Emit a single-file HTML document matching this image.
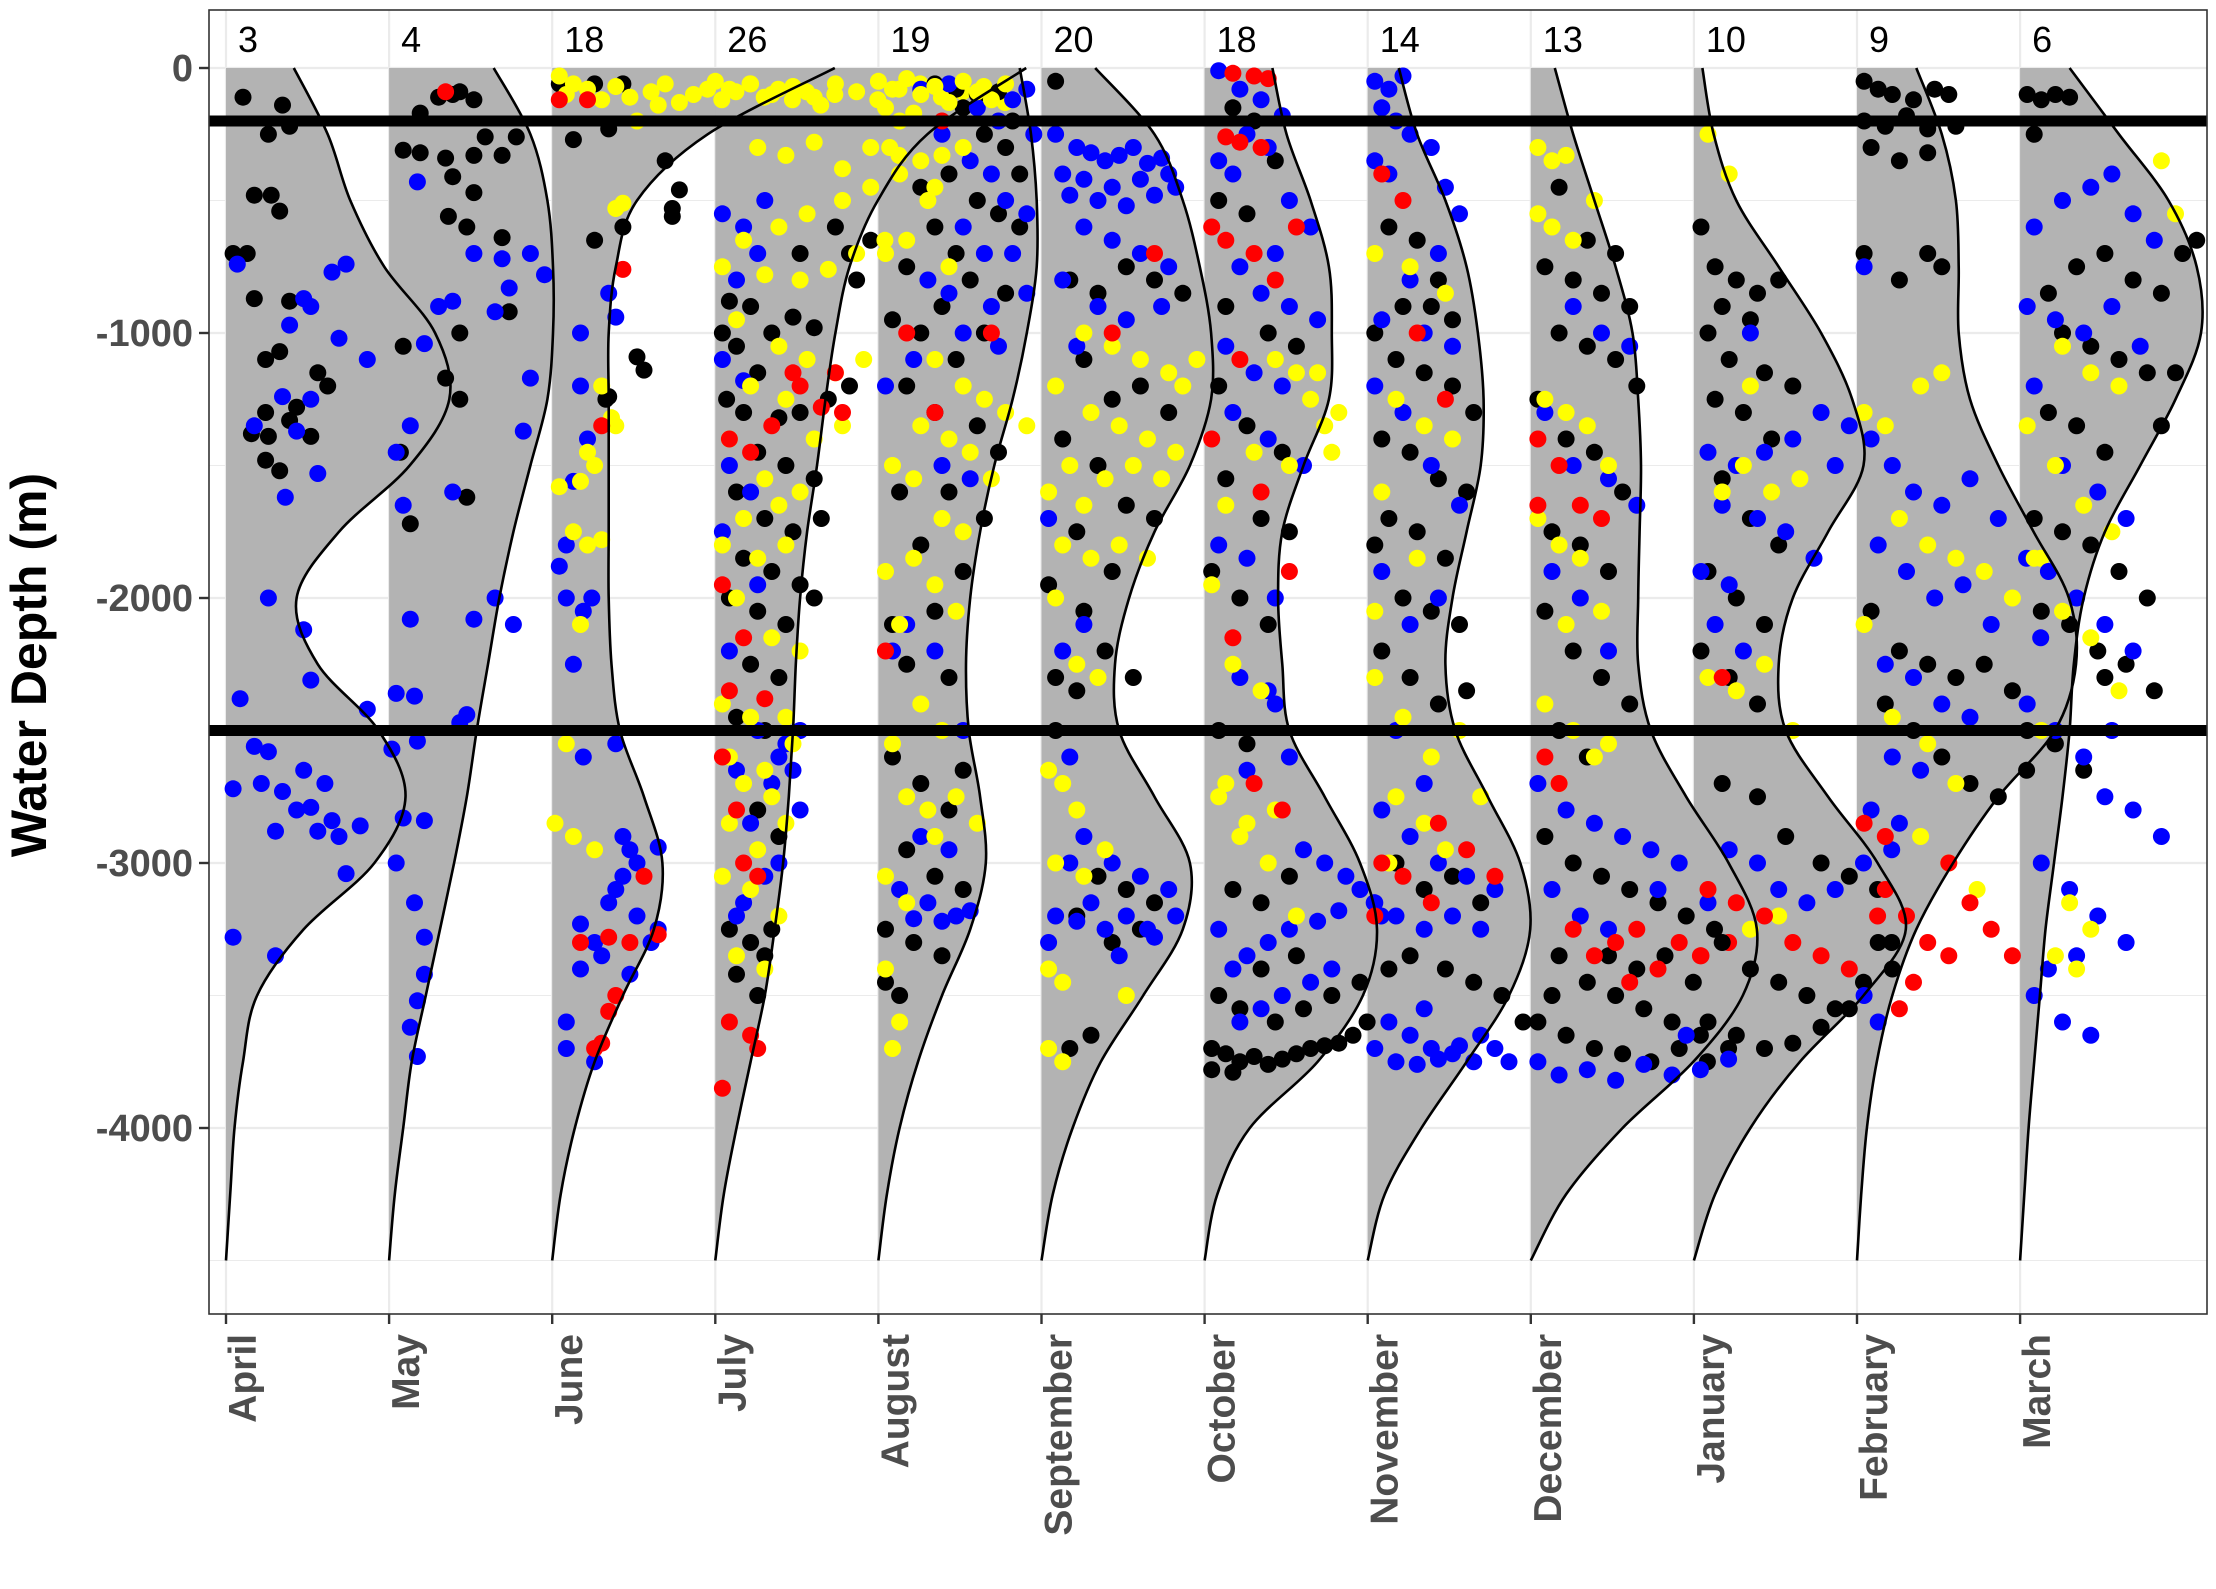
<!DOCTYPE html>
<html><head><meta charset="utf-8">
<style>
html,body{margin:0;padding:0;background:#fff;}
svg{display:block;font-family:"Liberation Sans",sans-serif;}
</style></head>
<body>
<svg id="chart" width="2216" height="1589" viewBox="0 0 2216 1589" xmlns="http://www.w3.org/2000/svg">
  <rect x="0" y="0" width="2216" height="1589" fill="#fff"/>
  <g id="grid"></g>
  <g id="dens"></g>
  <g id="pts"></g>
  <g id="ref"></g>
  <g id="counts"></g>
  <rect x="209" y="10" width="1998" height="1304" fill="none" stroke="#333" stroke-width="1.6"/>
  <g id="axes"></g>
  <text transform="translate(46,665) rotate(-90)" text-anchor="middle" font-weight="bold" font-size="50" fill="#000">Water Depth (m)</text>
</svg>
<script>
const months = ["April","May","June","July","August","September","October","November","December","January","February","March"];
const counts = [3,4,18,26,19,20,18,14,13,10,9,6];
const yTicks = [0,-1000,-2000,-3000,-4000];
const refDepths = [-200,-2500];
const densDepths = [0,250,500,750,1000,1250,1500,1750,2000,2250,2500,2750,3000,3250,3500,3750,4000,4250,4500];
const densApr = [48,72,88,112,148,158,130,80,50,65,108,127,105,55,22,12,6,3,0];
const densMay = [74,100,112,116,116,112,100,88,78,70,62,55,46,36,26,16,10,4,0];
const densJun = [200,110,60,45,40,40,40,40,40,42,48,65,78,72,50,30,16,6,0];
const densJul = [220,150,115,95,85,78,72,65,60,57,55,52,48,42,35,25,15,6,0];
const densAug = [100,108,112,112,105,95,82,72,65,62,64,72,76,65,45,28,15,6,0];
const densSep = [38,80,100,112,120,120,105,80,62,52,55,80,105,100,72,42,22,8,0];
const densOct = [48,58,75,88,90,88,70,55,52,55,60,85,110,122,112,80,32,9,0];
const densNov = [22,35,55,70,78,82,80,70,60,55,62,85,108,115,100,70,38,12,0];
const densDec = [17,30,45,60,72,76,78,77,76,76,85,110,140,160,150,115,65,25,0];
const densJan = [6,14,30,60,90,112,120,95,70,60,65,95,130,150,120,75,40,15,0];
const densFeb = [42,60,70,72,72,80,100,125,150,155,140,100,68,42,25,14,7,3,0];
const densMar = [35,70,105,125,128,110,85,60,45,38,35,30,24,18,14,10,6,3,0];
const densities = [densApr,densMay,densJun,densJul,densAug,densSep,densOct,densNov,densDec,densJan,densFeb,densMar];

const ptsBlack = [
 [12,110,40,140,30,250,45,220,20,480,32,480,38,540,5,700,15,700,20,870,45,880,28,1100,38,1070,65,1150,72,1200,50,1280,28,1300,45,1330,18,1380,30,1390,60,1390,28,1480,38,1520],
 [35,110,45,100,50,90,60,120,22,170,10,310,22,320,40,340,45,410,60,330,68,260,80,330,90,260,60,470,55,600,42,560,80,640,85,920,50,1000,10,1050,40,1170,50,1250,8,1450,55,1620,15,1720],
 [5,60,30,60,50,60,40,230,15,270,30,650,50,600,80,350,85,560,85,530,90,460,60,1090,65,1140,40,1240,38,1250],
 [10,880,25,900,5,1000,15,1050,40,1000,55,940,70,980,30,1150,8,1250,20,1300,45,1320,60,1300,80,1250,95,1200,30,1450,50,1500,70,1550,15,1600,35,1700,55,1750,75,1700,20,1850,40,1900,60,1950,10,2000,30,2050,50,2100,70,2000,25,2250,45,2300,15,2450,35,2500,30,2800,45,2900,10,3250,25,3300,35,3350,15,3420,30,3500,40,3250,95,700,110,650,85,600,60,700,100,800],
 [40,60,55,80,70,100,85,90,95,200,60,150,75,250,90,300,100,400,50,400,30,450,70,500,85,550,100,600,40,600,55,700,20,750,65,800,90,850,45,900,10,950,30,1000,75,1000,55,1100,20,1200,40,1300,70,1350,85,1450,15,1600,50,1600,75,1700,30,1800,60,1900,10,2100,40,2050,20,2250,50,2300,10,2600,30,2700,50,2800,60,2650,20,2950,40,3050,60,3100,5,3250,25,3300,45,3350,15,3500,5,3450],
 [10,50,20,800,40,850,60,750,80,800,100,850,30,1100,50,1250,70,1200,90,1300,15,1400,40,1500,60,1650,80,1700,25,1750,50,1900,5,1950,30,2050,45,2200,10,2300,25,2350,65,2300,40,3050,60,3100,80,3150,25,3200,50,3300,70,3250,35,3650,20,3700,10,2500],
 [20,150,35,200,50,350,10,500,30,550,15,900,45,1000,65,1050,10,1200,30,1350,55,1450,15,1550,40,1700,60,1750,5,1900,25,2000,45,2100,10,2500,30,2550,20,3100,40,3150,60,3050,10,3500,25,3550,5,3700,15,3720,25,3750,35,3730,45,3760,55,3740,65,3720,75,3700,85,3690,95,3680,105,3650,115,3600,5,3780,20,3790,50,3600,70,3550,90,3500,110,3450,40,3400,65,3350],
 [15,600,35,650,50,800,25,900,45,900,60,950,5,1000,20,1100,40,1150,60,1200,75,1300,10,1400,30,1450,50,1550,70,1600,15,1700,35,1750,55,1850,5,1800,25,2000,45,2050,65,2100,10,2200,30,2300,50,2400,70,2350,20,3000,40,3100,60,3050,80,3150,30,3350,55,3400,75,3450,95,3500,110,3600,15,3400],
 [20,450,40,650,60,700,10,750,30,800,50,850,70,900,20,1000,40,1050,60,1100,75,1200,5,1250,25,1400,45,1450,65,1600,15,1750,35,1800,55,1900,10,2050,30,2200,50,2300,70,2400,20,2500,40,2600,10,2900,30,3000,50,3050,70,3100,90,3150,110,3200,130,3250,20,3350,40,3450,60,3500,80,3550,100,3600,120,3650,140,3700,5,3600,25,3650,45,3700,65,3720,85,3750,105,3700,125,3750,15,3500,55,3350,75,3400,95,3350,115,3450],
 [5,600,15,750,30,800,45,850,60,800,20,900,40,950,10,1000,25,1100,50,1150,70,1200,15,1250,35,1300,55,1400,20,1550,40,1700,60,1800,10,1900,30,2000,50,2100,5,2200,25,2300,45,2400,20,2700,45,2750,65,2900,90,3000,110,3050,130,3100,20,3300,40,3400,60,3450,80,3500,100,3550,120,3450,140,3300,10,3600,30,3650,50,3700,70,3680,90,3620,110,3550],
 [5,50,15,80,25,100,40,120,55,80,65,100,5,200,20,220,35,180,50,230,70,220,10,300,30,350,50,320,5,700,30,800,50,700,60,750,10,2050,30,2200,50,2250,70,2300,90,2250,110,2350,20,2400,40,2500,60,2600,80,2700,100,2750,120,2650,140,2550,15,3300,25,3400],
 [5,100,15,120,25,100,35,110,10,250,20,850,40,750,60,700,80,800,100,850,115,700,125,650,30,1000,50,1050,70,1100,90,1150,110,1150,20,1300,40,1350,60,1450,10,1700,30,1750,50,1800,70,1900,90,2000,15,2050,35,2100,55,2200,75,2250,95,2350,5,2500,25,2550,45,2650,60,2300,100,1350]
];
const ptsBlue = [
 [8,740,55,870,75,770,85,740,45,970,60,900,40,1240,20,1350,80,1020,100,1100,60,1250,50,1370,65,1530,42,1620,30,2000,55,2120,60,2310,100,2420,10,2380,20,2560,30,2580,25,2700,40,2730,55,2650,70,2700,50,2800,60,2790,75,2840,80,2900,65,2880,35,2880,85,3040,95,2860,5,2720,5,3280,35,3350],
 [20,430,60,700,75,920,85,830,45,880,35,900,80,720,100,700,110,780,25,1040,15,1350,10,1650,5,1450,45,1600,95,1370,100,1170,60,2080,75,2000,88,2100,15,2080,5,2360,18,2370,20,2540,10,2830,25,2840,5,3000,18,3150,25,3280,20,3520,25,3420,15,3620,20,3730,55,2440,50,2470,2,2570],
 [40,850,45,940,20,1000,20,1200,25,1400,15,1560,10,1800,5,1880,10,2000,22,2050,28,2000,15,2250,22,2600,45,2550,50,2900,55,2950,75,2940,60,3000,50,3050,45,3100,40,3150,60,3200,75,3250,20,3230,30,3300,35,3350,20,3400,10,3600,10,3700,30,3750,55,3420,70,3300],
 [5,550,20,600,35,500,15,800,30,700,5,1100,20,1180,10,1500,25,1600,5,1750,30,1950,10,2200,30,2500,45,2600,50,2550,15,2650,40,2700,25,2850,45,3000,35,3050,15,3200,60,2500,55,2650,60,2800,20,3150],
 [30,80,50,60,70,150,85,200,95,120,105,80,110,250,45,250,65,350,80,400,90,500,105,550,60,600,75,700,95,700,35,800,50,850,80,900,105,850,60,1000,85,1050,25,1100,5,1200,45,1500,65,1550,20,2100,40,2200,60,2500,30,2900,50,2950,15,3100,35,3150,55,3200,45,3220,65,3180,25,3210,10,2200],
 [25,300,35,320,45,350,55,330,65,300,75,360,85,340,15,400,30,420,50,450,70,420,90,400,40,500,60,520,10,250,20,480,80,480,95,450,30,600,50,650,70,700,90,750,15,800,40,900,60,950,85,900,25,1050,5,1700,15,2200,30,2100,20,2600,30,2900,50,3000,70,3050,90,3100,10,3200,25,3220,45,3250,60,3200,75,3250,95,3200,35,3150,55,3350,80,3280,5,3300,20,3000],
 [10,10,25,80,40,120,55,180,30,250,45,300,10,350,20,400,60,500,75,600,50,700,25,750,40,850,60,900,80,950,15,1050,35,1150,55,1200,20,1300,45,1400,70,1500,10,1800,30,1850,50,2000,25,2300,45,2350,50,2400,30,2650,60,2600,70,2950,85,3000,100,3050,110,3100,120,3150,125,3200,95,3180,80,3220,60,3250,45,3300,30,3350,20,3400,10,3250,55,3500,40,3550,25,3600,75,3450,90,3400],
 [5,50,15,80,25,30,10,150,20,200,30,250,5,350,15,400,45,300,55,450,65,550,50,700,30,800,10,950,40,1000,60,1050,5,1200,25,1300,45,1500,65,1650,10,1900,30,2100,50,2000,20,2500,40,2700,10,2800,30,2900,50,3000,70,3050,90,3100,5,3150,20,3200,40,3250,60,3200,80,3250,15,3600,30,3650,45,3700,60,3720,75,3750,90,3700,5,3700,20,3750,35,3760,50,3740,65,3690,80,3650,100,3750,40,3550],
 [30,900,50,1000,70,1050,10,1300,30,1500,55,1550,75,1650,15,1900,35,2000,55,2200,5,2700,25,2800,45,2850,65,2900,85,2950,105,3000,15,3100,35,3200,55,3250,5,3750,20,3800,40,3780,60,3820,80,3760,100,3800,120,3780,140,3740,110,3650,90,3100],
 [40,1000,10,1450,30,1500,50,1450,70,1400,90,1300,110,1350,20,1650,45,1700,65,1750,85,1850,100,1500,5,1900,25,1950,15,2100,35,2200,25,2950,45,3000,60,3100,80,3150,100,3100,120,3000,140,2950,10,3150],
 [5,750,10,1400,25,1500,40,1600,60,1650,80,1550,100,1700,120,1850,15,1800,35,1900,55,2000,75,1950,95,2100,130,2150,20,2250,40,2300,60,2400,80,2450,25,2600,45,2650,10,2800,30,2850,5,3500,15,3600],
 [10,600,30,500,50,450,65,400,80,550,95,650,5,900,25,950,45,1000,65,900,85,1050,10,1200,30,1500,55,1600,75,1700,20,1900,40,2000,60,2100,80,2200,5,2400,25,2500,45,2600,60,2750,80,2800,100,2900,15,3000,35,3100,55,3200,75,3300,10,3500,30,3600,50,3650,20,3400,40,3350,65,2500]
];
const ptsYellow = [
 [],
 [],
 [5,30,15,60,25,80,10,100,35,120,45,70,55,110,70,90,80,60,90,130,100,100,110,80,120,120,130,90,140,60,150,110,160,80,170,120,180,90,190,140,200,100,60,200,75,140,50,510,45,530,35,1200,25,1450,30,1500,42,1320,45,1350,20,1560,5,1580,15,1750,25,1800,35,1780,20,2100,10,2550,2,2850,15,2900,30,2950],
 [0,50,10,80,25,60,40,100,55,70,70,110,85,60,100,90,115,120,130,80,145,60,160,110,175,90,190,70,205,130,20,650,45,600,65,550,90,500,110,450,5,750,35,780,60,800,80,760,100,700,120,650,15,950,45,1050,65,1100,85,1150,105,1100,25,1200,50,1250,70,1400,90,1350,10,1400,35,1550,60,1600,20,1700,45,1650,5,1800,30,1850,50,1800,15,2000,40,2150,60,2200,5,2400,25,2450,50,2450,10,2600,35,2650,55,2550,20,2700,40,2750,10,2850,30,2950,50,2850,5,3050,25,3100,45,3200,15,3350,35,3400,30,300,50,330,70,280,90,380,110,300,130,330],
 [0,50,10,80,20,40,30,100,40,70,50,130,60,50,70,90,80,120,90,60,5,150,15,200,25,170,8,300,30,350,45,330,60,300,15,400,40,450,35,500,20,650,5,700,50,750,40,1100,60,1200,75,1250,90,1300,105,1350,30,1350,50,1400,65,1450,10,1500,25,1550,80,1550,45,1700,60,1750,25,1850,5,1900,40,1950,55,2050,15,2100,30,2400,45,2500,10,2550,20,2750,35,2800,55,2750,70,2850,40,2900,5,3050,20,3150,5,3400,15,3600,10,3700],
 [30,1000,50,1050,70,1100,90,1150,110,1100,10,1200,35,1300,55,1350,75,1400,95,1450,20,1500,45,1550,65,1500,85,1550,5,1600,30,1650,15,1800,35,1850,55,1800,75,1850,10,2000,25,2250,40,2300,5,2650,15,2700,25,2800,10,3000,30,3050,45,2950,5,3400,15,3450,5,3700,15,3750,60,3500,100,1200],
 [50,1100,65,1150,75,1250,85,1350,95,1300,60,1500,35,1450,15,1650,5,1950,20,2250,40,2350,10,2750,30,2850,50,2800,45,3000,25,2900,65,3200,15,2700,80,1150,90,1450],
 [5,700,30,750,55,850,20,1250,40,1350,60,1400,10,1600,35,1850,5,2300,25,2450,45,2600,65,2500,80,2750,20,2750,40,2850,15,3000,55,2950,5,2050],
 [5,300,15,350,25,330,5,550,15,600,30,650,45,500,10,1250,25,1300,40,1350,55,1500,5,1700,20,1800,35,1850,50,2050,25,2100,10,2400,30,2500,45,2600,55,2550,20,2700],
 [10,250,25,400,40,1200,20,1600,35,1500,55,1600,75,1550,10,2300,30,2350,50,2250,70,2500,60,3200,40,3250],
 [5,1300,20,1350,45,1200,60,1150,30,1700,50,1800,70,1850,90,1900,110,2000,130,1850,5,2100,25,2450,50,2550,70,2700,45,2900,65,3000,85,3100],
 [100,350,110,550,30,1050,50,1150,70,1200,5,1350,25,1500,45,1650,65,1750,10,1850,30,2050,50,2150,70,2350,15,2500,35,3150,50,3250,25,3350,40,3400]
];
const ptsRed = [
 [],
 [40,90],
 [5,120,25,120,50,760,35,1350,20,3300,40,3280,55,3300,65,3050,75,3270,45,3500,40,3560,35,3680,30,3700],
 [10,1400,25,1450,55,1150,60,1200,75,1280,90,1300,40,1350,5,1950,20,2150,10,2350,35,2380,5,2600,20,3000,30,3050,10,3600,25,3650,30,3700,5,3850,15,2800,85,1150],
 [45,200,20,1000,80,1000,5,2200,40,1300],
 [50,1000,80,700],
 [20,20,35,30,45,40,15,260,25,280,40,300,5,600,15,650,35,700,50,800,65,600,25,1100,5,1400,40,1600,60,1900,20,2150,35,2700,55,2800],
 [10,400,25,500,35,1000,55,1250,10,3000,25,3050,45,3150,70,2950,90,3050,50,2850,5,3200],
 [5,1400,20,1500,35,1650,50,1700,5,1650,10,2600,20,2700,30,3250,45,3350,60,3300,75,3250,90,3400,105,3300,120,3350,140,3300,70,3450],
 [20,2300,10,3100,30,3150,50,3200,70,3300,90,3350,110,3400,130,3200,5,3350],
 [5,2850,20,2900,35,3200,50,3300,65,3350,80,3150,95,3250,110,3350,30,3550,40,3450,20,3100,65,3000],
 []
];

const X0 = 226, XSTEP = 163.1, OFFSCALE = 1.413;
const Y0 = 68, YPER = 0.265;
function xMonth(i){ return X0 + i*XSTEP; }
function xOff(i, off){ return xMonth(i) + off*OFFSCALE; }
function yDepth(d){ return Y0 - d*YPER; }
const PANEL_L = 209, PANEL_R = 2207, PANEL_T = 10, PANEL_B = 1314;
const NS = "http://www.w3.org/2000/svg";
function mk(tag, attrs, parent){ const e=document.createElementNS(NS,tag); for(const k in attrs) e.setAttribute(k,attrs[k]); parent.appendChild(e); return e; }

const grid = document.getElementById('grid');
for(let d=0; d>=-4500; d-=500){
  const major = d % 1000 === 0;
  const l = mk('line',{x1:PANEL_L,x2:PANEL_R,y1:yDepth(d),y2:yDepth(d),stroke:'#ebebeb','stroke-width':major?2.2:1.1},grid);
  
  
}
months.forEach((m,i)=>{
  const l = mk('line',{x1:xMonth(i),x2:xMonth(i),y1:PANEL_T,y2:PANEL_B,stroke:'#ebebeb','stroke-width':2.2},grid);
  
  
});

function smoothPath(p){
  let s = 'M'+p[0][0].toFixed(1)+','+p[0][1].toFixed(1);
  for(let i=0;i<p.length-1;i++){
    const p0=p[Math.max(0,i-1)], p1=p[i], p2=p[i+1], p3=p[Math.min(p.length-1,i+2)];
    const c1=[p1[0]+(p2[0]-p0[0])/6, p1[1]+(p2[1]-p0[1])/6];
    const c2=[p2[0]-(p3[0]-p1[0])/6, p2[1]-(p3[1]-p1[1])/6];
    s += ' C'+c1[0].toFixed(1)+','+c1[1].toFixed(1)+' '+c2[0].toFixed(1)+','+c2[1].toFixed(1)+' '+p2[0].toFixed(1)+','+p2[1].toFixed(1);
  }
  return s;
}
const dens = document.getElementById('dens');
const curveG = document.getElementById('ref');
const curves = [];
densities.forEach((arr,i)=>{
  const pts = arr.map((w,k)=>[xOff(i,w), yDepth(-densDepths[k])]);
  const c = smoothPath(pts);
  const fill = mk('path',{d:c+' L'+xMonth(i)+','+yDepth(-4500)+' L'+xMonth(i)+','+yDepth(0)+' Z',fill:'#b3b3b3',stroke:'none'},dens);
  
  
  curves.push(c);
});

const ptsG = document.getElementById('pts');
const colorSets = [[ptsBlack,'#000000','black'],[ptsBlue,'#0000ff','blue'],[ptsYellow,'#ffff00','yellow'],[ptsRed,'#ff0000','red']];
for(let i=0;i<12;i++){
  colorSets.forEach(([set,col,nm])=>{
    const a = set[i];
    for(let k=0;k<a.length;k+=2){
      const c = mk('circle',{cx:xOff(i,a[k]).toFixed(1),cy:yDepth(-a[k+1]).toFixed(1),r:8.5,fill:col},ptsG);
      
      
    }
  });
}

curves.forEach((c,i)=>{
  const p = mk('path',{d:c,fill:'none',stroke:'#000','stroke-width':2.6},curveG);
  
  
});
refDepths.forEach(d=>{
  const l = mk('line',{x1:PANEL_L,x2:PANEL_R,y1:yDepth(d),y2:yDepth(d),stroke:'#000','stroke-width':11},curveG);
  
  
});

const cg = document.getElementById('counts');
counts.forEach((n,i)=>{
  const t = mk('text',{x:xMonth(i)+12,y:52,'font-size':36,fill:'#000'},cg);
  t.textContent = n;
  
  
});

const ax = document.getElementById('axes');
yTicks.forEach(v=>{
  const y = yDepth(v);
  const tk = mk('line',{x1:199,x2:209,y1:y,y2:y,stroke:'#333','stroke-width':2.4},ax);
  
  
  const t = mk('text',{x:193,y:y+13,'text-anchor':'end','font-size':38,'font-weight':'bold',fill:'#4d4d4d',style:'font-family:"Liberation Sans Narrow","Liberation Sans",sans-serif'},ax);
  t.textContent = v;
  
  
});
months.forEach((m,i)=>{
  const x = xMonth(i);
  const tk = mk('line',{x1:x,x2:x,y1:PANEL_B,y2:PANEL_B+10,stroke:'#333','stroke-width':2.4},ax);
  
  
  const t = mk('text',{transform:'translate('+(x+30)+',1334) rotate(-90)','text-anchor':'end','font-size':39,'font-weight':'bold',fill:'#4d4d4d'},ax);
  t.textContent = m;
  
  
});
</script>
</body></html>
